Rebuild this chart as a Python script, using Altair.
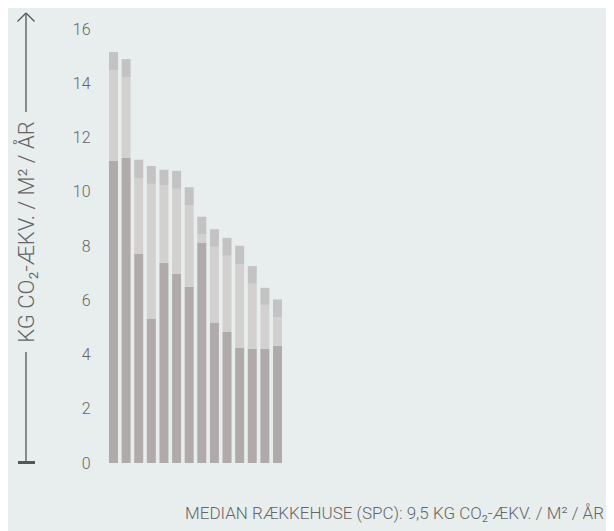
import altair as alt
import pandas as pd

# Data (kg CO2-eq / m2 / year)
projects = [f"P{i}" for i in range(1, 15)]
segment_names = ["Bund", "Midte", "Top"]
bottom_vals = [11.13, 11.25, 7.71, 5.33, 7.38, 6.97, 6.50, 8.13, 5.18, 4.83, 4.26, 4.21, 4.21, 4.32]
middle_vals = [3.36, 2.98, 2.80, 4.96, 2.87, 3.14, 2.99, 0.31, 2.79, 2.81, 3.08, 2.40, 1.62, 1.06]
top_vals = [0.66, 0.66, 0.67, 0.66, 0.56, 0.66, 0.68, 0.64, 0.65, 0.66, 0.67, 0.65, 0.63, 0.65]
y_ticks = [0, 2, 4, 6, 8, 10, 12, 14, 16]
y_title = "KG CO₂-ÆKV. / M² / ÅR"
footer = "MEDIAN RÆKKEHUSE (SPC): 9,5 KG CO₂-ÆKV. / M² / ÅR"

FONT = "Roboto"
TEXT_COL = "#666666"
LINE_COL = "#555555"
BG = "#e8eeee"
seg_colors = ["#b0abaa", "#d3d0d0", "#c3c3c3"]

rows = []
for i, p in enumerate(projects):
    for k, (name, vals) in enumerate(zip(segment_names, [bottom_vals, middle_vals, top_vals])):
        rows.append({"projekt": p, "segment": name, "ordre": k, "værdi": vals[i]})
df = pd.DataFrame(rows)

one = pd.DataFrame({"a": [0]})

bars = alt.Chart(df).mark_bar().encode(
    x=alt.X("projekt:N", sort=projects, axis=None,
            scale=alt.Scale(paddingInner=0.286, paddingOuter=0)),
    y=alt.Y("sum(værdi):Q",
            scale=alt.Scale(domain=[0, 16], nice=False),
            axis=alt.Axis(values=y_ticks, domain=False, ticks=False, grid=False,
                          labelPadding=19, labelFontSize=16, labelColor=TEXT_COL,
                          labelFont=FONT, labelFontWeight=300, title=None)),
    color=alt.Color("segment:N", sort=segment_names, legend=None,
                    scale=alt.Scale(domain=segment_names, range=seg_colors)),
    order=alt.Order("ordre:Q", sort="ascending"),
)

title_txt = alt.Chart(one).mark_text(
    text=y_title, angle=270, align="center", baseline="alphabetic",
    font=FONT, fontSize=22, fontWeight=300, color=TEXT_COL,
).encode(x=alt.value(-75), y=alt.value(203))

up_line = alt.Chart(one).mark_rule(color=LINE_COL, strokeWidth=1.3).encode(
    x=alt.value(-83), y=alt.value(-16), y2=alt.value(83))
head_l = alt.Chart(one).mark_rule(color=LINE_COL, strokeWidth=1.3).encode(
    x=alt.value(-91.5), y=alt.value(-7.5), x2=alt.value(-83), y2=alt.value(-16))
head_r = alt.Chart(one).mark_rule(color=LINE_COL, strokeWidth=1.3).encode(
    x=alt.value(-83), y=alt.value(-16), x2=alt.value(-74.5), y2=alt.value(-7.5))
low_line = alt.Chart(one).mark_rule(color=LINE_COL, strokeWidth=1.3).encode(
    x=alt.value(-83), y=alt.value(323), y2=alt.value(433))
cap = alt.Chart(one).mark_rule(color=LINE_COL, strokeWidth=3).encode(
    x=alt.value(-91), x2=alt.value(-74), y=alt.value(433.5))

footer_txt = alt.Chart(one).mark_text(
    text=footer, align="right", baseline="alphabetic",
    font=FONT, fontSize=17, fontWeight=300, color=TEXT_COL,
).encode(x=alt.value(495), y=alt.value(490))

chart = alt.layer(bars, title_txt, up_line, head_l, head_r, low_line, cap, footer_txt).properties(
    width=173, height=434,
    autosize=alt.AutoSizeParams(type="none"),
    padding={"left": 101, "top": 21, "right": 324, "bottom": 68},
    background=BG,
).configure_view(stroke=None)

chart.save("out.html", embed_options={"renderer": "svg", "actions": False})
